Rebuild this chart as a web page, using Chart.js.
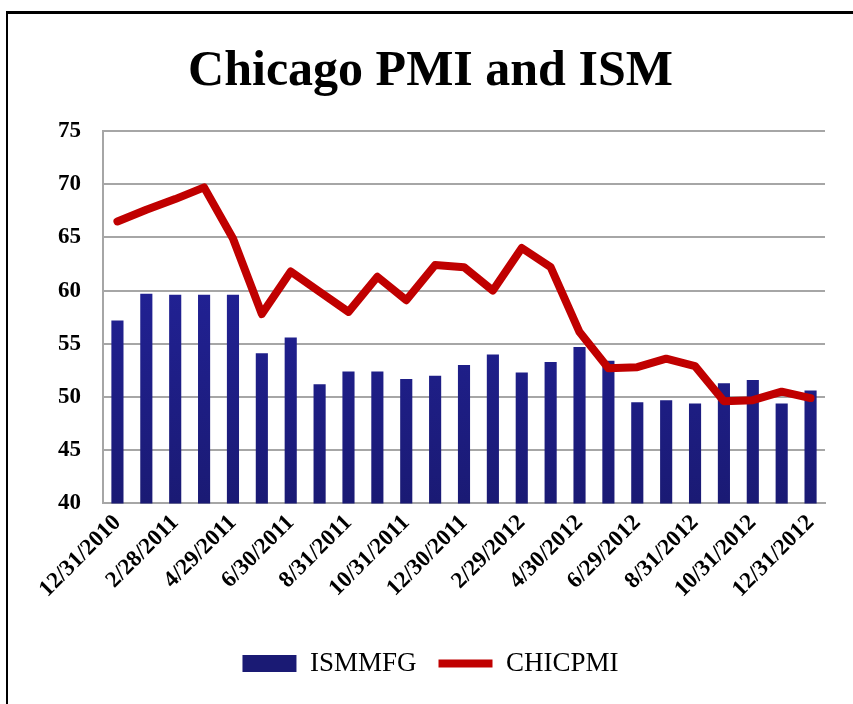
<!DOCTYPE html>
<html>
<head>
<meta charset="utf-8">
<title>Chicago PMI and ISM</title>
<script src="https://cdn.jsdelivr.net/npm/chart.js@4"></script>
<style>
  html, body { margin: 0; padding: 0; background: #fff; overflow: hidden; }
  .frame {
    position: absolute; left: 6px; top: 11px; width: 900px; height: 760px;
    border-left: 2px solid #000; border-top: 3px solid #000;
  }
  .wrap { position: absolute; left: 0; top: 0; width: 853px; height: 704px; }
</style>
</head>
<body>
<div class="frame"></div>
<div class="wrap"><canvas id="chart"></canvas></div>
<script>
// Month-end dates (one per bar)
const dates = [
  '12/31/2010', '1/31/2011', '2/28/2011', '3/31/2011', '4/29/2011', '5/31/2011',
  '6/30/2011', '7/29/2011', '8/31/2011', '9/30/2011', '10/31/2011', '11/30/2011',
  '12/30/2011', '1/31/2012', '2/29/2012', '3/30/2012', '4/30/2012', '5/31/2012',
  '6/29/2012', '7/31/2012', '8/31/2012', '9/28/2012', '10/31/2012', '11/30/2012',
  '12/31/2012'
];

// ISM manufacturing (bars)
const ismMfg = [
  57.2, 59.7, 59.6, 59.6, 59.6, 54.1, 55.6, 51.2, 52.4, 52.4, 51.7, 52.0,
  53.0, 54.0, 52.3, 53.3, 54.7, 53.4, 49.5, 49.7, 49.4, 51.3, 51.6, 49.4,
  50.6
];

// Chicago PMI (line)
const chicPmi = [
  66.5, 67.6, 68.6, 69.7, 64.9, 57.8, 61.8, 59.9, 58.0, 61.3, 59.1, 62.4,
  62.2, 60.0, 64.0, 62.2, 56.1, 52.7, 52.8, 53.6, 52.9, 49.6, 49.7, 50.5,
  49.9
];

const yTicks = [40, 45, 50, 55, 60, 65, 70, 75];

const serif = "'Liberation Serif', 'Times New Roman', serif";

function barGradient(context) {
  const chart = context.chart;
  const area = chart.chartArea;
  if (!area) return '#22229a';
  const g = chart.ctx.createLinearGradient(0, area.top, 0, area.bottom);
  g.addColorStop(0, '#2626aa');
  g.addColorStop(1, '#1a1a74');
  return g;
}

new Chart(document.getElementById('chart'), {
  type: 'bar',
  data: {
    labels: dates,
    datasets: [
      {
        label: 'ISMMFG',
        data: ismMfg,
        backgroundColor: barGradient,
        borderWidth: 0,
        barPercentage: 0.42,
        categoryPercentage: 1,
        pointStyle: 'rect',
        order: 1
      },
      {
        type: 'line',
        label: 'CHICPMI',
        data: chicPmi,
        borderColor: '#c00000',
        backgroundColor: '#c00000',
        borderWidth: 8,
        borderCapStyle: 'round',
        borderJoinStyle: 'round',
        pointRadius: 0,
        pointStyle: 'line',
        tension: 0,
        order: 0
      }
    ]
  },
  options: {
    responsive: true,
    maintainAspectRatio: false,
    animation: false,
    layout: { padding: { left: 36, right: 28, top: 42, bottom: 17 } },
    plugins: {
      title: {
        display: true,
        text: 'Chicago PMI and ISM',
        color: '#000',
        font: { family: serif, size: 50, weight: 'bold' },
        padding: { top: 0, bottom: 29 }
      },
      legend: {
        position: 'bottom',
        labels: {
          usePointStyle: true,
          pointStyleWidth: 54,
          boxHeight: 17,
          color: '#000',
          padding: 22,
          font: { family: serif, size: 27 },
          sort: (a, b) => a.datasetIndex - b.datasetIndex
        }
      },
      tooltip: { enabled: false }
    },
    scales: {
      x: {
        grid: { display: false, drawTicks: false },
        border: { color: '#a6a6a6', width: 2 },
        afterFit: function(scale) {
          scale.height += 19;
        },
        ticks: {
          autoSkip: false,
          minRotation: 45,
          maxRotation: 45,
          padding: 6,
          color: '#000',
          font: { family: serif, size: 23, weight: 'bold' },
          callback: function(value, index) {
            return index % 2 === 0 ? dates[index] : '';
          }
        }
      },
      y: {
        min: 40,
        max: 75,
        afterBuildTicks: function(scale) {
          scale.ticks = yTicks.map(v => ({ value: v }));
        },
        grid: { color: '#a6a6a6', lineWidth: 2, drawTicks: false },
        border: { color: '#a6a6a6', width: 2 },
        ticks: {
          padding: 22,
          color: '#000',
          font: { family: serif, size: 23, weight: 'bold' }
        }
      }
    }
  }
});
</script>
</body>
</html>
